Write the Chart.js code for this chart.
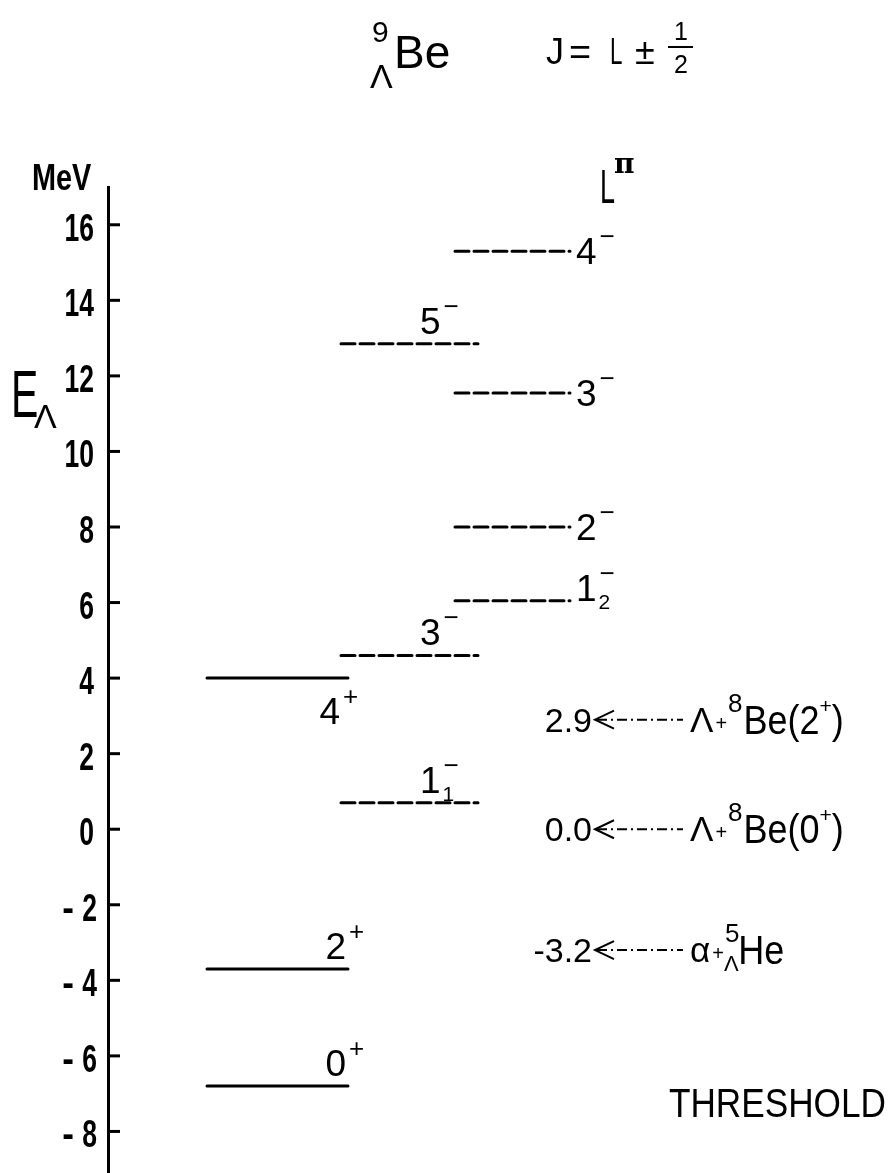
<!DOCTYPE html>
<html>
<head>
<meta charset="utf-8">
<script src="https://cdn.jsdelivr.net/npm/chart.js@4.4.1/dist/chart.umd.min.js"></script>
<style>
  html, body { margin: 0; padding: 0; background: #fff; }
  #wrap { width: 892px; height: 1173px; }
</style>
</head>
<body>
<div id="wrap"><canvas id="levels" width="892" height="1173"></canvas></div>
<script>
// 9-Lambda-Be levels (MeV), L^pi labels, grouped in three columns
const levelSpins = ['0', '2', '4', '1', '3', '5', '1', '2', '3', '4'];
const levelParities = ['+', '+', '+', '-', '-', '-', '-', '-', '-', '-'];
const levelIndices = ['', '', '', '1', '', '', '2', '', '', ''];
const levelEnergies = [-6.8, -3.7, 4.0, 0.7, 4.6, 12.85, 6.05, 8.0, 11.55, 15.3];
const levelColumns = [0, 0, 0, 1, 1, 1, 2, 2, 2, 2];

// breakup thresholds
const thresholdEnergies = [2.9, 0.0, -3.2];
const channelParticles = ['Λ', 'Λ', 'α'];
const channelMasses = ['8', '8', '5'];
const channelCores = ['Be(2+)', 'Be(0+)', 'He'];
const channelHyper = [false, false, true];

const yTickValues = [-8, -6, -4, -2, 0, 2, 4, 6, 8, 10, 12, 14, 16];

// horizontal layout, in px from the energy axis
const columns = [
  { x0: 99, x1: 240, label: 'end' },
  { x0: 233, x1: 370, label: 'mid' },
  { x0: 347, x1: 462, label: 'right' }
];
const labelsBelow = ['4+'];
const arrowFrom = 489, arrowTo = 575;

const SANS = '"Liberation Sans", Arial, sans-serif';

const datasets = [];
levelEnergies.forEach((e, i) => {
  const col = columns[levelColumns[i]];
  datasets.push({
    data: [{ x: col.x0, y: e }, { x: col.x1, y: e }],
    borderColor: '#000',
    borderWidth: 3,
    borderDash: levelParities[i] === '+' ? [] : [14, 5],
    borderCapStyle: 'round'
  });
});
thresholdEnergies.forEach(e => {
  datasets.push({
    data: [{ x: arrowFrom, y: e }, { x: arrowTo, y: e }],
    borderColor: '#000',
    borderWidth: 2,
    borderDash: [10, 4, 2, 4]
  });
});

function sign(ch) {
  return ch === '-' ? '\u2212' : ch;
}

// condensed lettering: squeeze a normal face horizontally
function squeezed(ctx, text, x, y, font, sx, align) {
  ctx.save();
  ctx.font = font;
  ctx.textAlign = align || 'left';
  ctx.translate(x, y);
  ctx.scale(sx, 1);
  ctx.fillText(text, 0, 0);
  ctx.restore();
}

const annotations = {
  id: 'annotations',
  afterDraw(chart) {
    const { ctx, chartArea, scales: { x, y } } = chart;
    ctx.save();
    ctx.fillStyle = '#000';
    ctx.strokeStyle = '#000';
    ctx.textBaseline = 'alphabetic';
    ctx.textAlign = 'left';

    // tick marks point into the plot, labels in a condensed face
    ctx.lineWidth = 3;
    y.ticks.forEach(t => {
      const py = y.getPixelForValue(t.value);
      ctx.beginPath();
      ctx.moveTo(chartArea.left, py);
      ctx.lineTo(chartArea.left + 12, py);
      ctx.stroke();
      const font = 'bold 39px ' + SANS;
      if (t.value < 0) {
        squeezed(ctx, String(-t.value), 97, py + 16, font, 0.68, 'right');
        squeezed(ctx, '-', 74, py + 16, font, 0.9, 'right');
      } else {
        squeezed(ctx, String(t.value), 94, py + 16, font, 0.68, 'right');
      }
    });

    // level labels
    levelEnergies.forEach((e, i) => {
      const col = columns[levelColumns[i]];
      const py = y.getPixelForValue(e);
      const x1 = x.getPixelForValue(col.x1);
      const spin = levelSpins[i];
      ctx.font = '37px ' + SANS;
      const w = ctx.measureText(spin).width;
      let left, base;
      if (col.label === 'right') {
        left = x1 + 6;
        base = levelIndices[i] ? py : py + 13;
      } else if (col.label === 'mid') {
        left = x1 - 58;
        base = py - 10;
      } else {
        left = x1 - 2 - w;
        base = py - 10;
      }
      if (labelsBelow.includes(spin + levelParities[i])) {
        left = x1 - 8 - w;
        base = py + 46;
      }
      ctx.fillText(spin, left, base);
      ctx.font = '26px ' + SANS;
      ctx.fillText(sign(levelParities[i]), left + w + 3, base - 19);
      if (levelIndices[i]) {
        ctx.font = '21px ' + SANS;
        ctx.fillText(levelIndices[i], left + w + 2, base + 8);
      }
    });

    // thresholds: value <-·-·- channel
    thresholdEnergies.forEach((e, i) => {
      const py = y.getPixelForValue(e);
      ctx.font = '34px ' + SANS;
      ctx.textAlign = 'right';
      ctx.fillText(e.toFixed(1), 592, py + 12);
      ctx.textAlign = 'left';
      const tip = x.getPixelForValue(arrowFrom) - 2;
      ctx.lineWidth = 2;
      ctx.beginPath();
      ctx.moveTo(tip + 19, py - 9);
      ctx.lineTo(tip, py);
      ctx.lineTo(tip + 19, py + 9);
      ctx.stroke();

      let cx = 690;
      ctx.font = '35px ' + SANS;
      ctx.fillText(channelParticles[i], cx, py + 12);
      cx += ctx.measureText(channelParticles[i]).width + 2;
      ctx.font = '20px ' + SANS;
      ctx.fillText('+', cx, py + 10);
      cx += ctx.measureText('+').width + 1;
      ctx.font = '26px ' + SANS;
      ctx.fillText(channelMasses[i], cx, py - 8);
      if (channelHyper[i]) {
        ctx.font = '22px ' + SANS;
        ctx.fillText('Λ', cx - 1, py + 21);
      }
      cx += ctx.measureText(channelMasses[i]).width + 1;
      for (const ch of channelCores[i]) {
        if (ch === '+') {
          ctx.font = '21px ' + SANS;
          ctx.fillText('+', cx, py - 7);
          cx += ctx.measureText(ch).width;
        } else {
          squeezed(ctx, ch, cx, py + 14, '40px ' + SANS, 0.9);
          ctx.font = '40px ' + SANS;
          cx += ctx.measureText(ch).width * 0.9;
        }
      }
    });

    // axis captions
    squeezed(ctx, 'MeV', 32, 190, 'bold 37px ' + SANS, 0.78);
    squeezed(ctx, 'E', 11, 417, '66px ' + SANS, 0.62);
    ctx.font = '34px ' + SANS;
    ctx.fillText('Λ', 34, 428);

    squeezed(ctx, 'L', 600, 203, '49px ' + SANS, 0.55);
    ctx.font = 'bold 28px "DejaVu Serif", serif';
    ctx.fillText('π', 614, 173);

    // heading
    ctx.font = '30px ' + SANS;
    ctx.fillText('9', 372, 42);
    ctx.font = '34px ' + SANS;
    ctx.fillText('Λ', 370, 88);
    ctx.font = '46px ' + SANS;
    ctx.fillText('Be', 394, 68);
    ctx.font = '36px ' + SANS;
    ctx.fillText('J', 546, 64);
    squeezed(ctx, '=', 569, 64, '36px ' + SANS, 1.05);
    squeezed(ctx, 'L', 610, 64, '36px ' + SANS, 0.62);
    ctx.font = '36px ' + SANS;
    ctx.fillText('±', 635, 64);
    ctx.textAlign = 'center';
    ctx.font = '25px ' + SANS;
    ctx.fillText('1', 681, 40);
    ctx.fillText('2', 681, 73);
    ctx.lineWidth = 2;
    ctx.beginPath();
    ctx.moveTo(668, 47);
    ctx.lineTo(693, 47);
    ctx.stroke();

    squeezed(ctx, 'THRESHOLD', 886, 1117, '40px ' + SANS, 0.88, 'right');
    ctx.restore();
  }
};

new Chart(document.getElementById('levels'), {
  type: 'scatter',
  data: { datasets },
  options: {
    responsive: false,
    animation: false,
    events: [],
    showLine: true,
    elements: { point: { radius: 0 }, line: { tension: 0 } },
    layout: { padding: { top: 187, left: 0, right: 0, bottom: 0 } },
    plugins: { legend: { display: false }, tooltip: { enabled: false } },
    scales: {
      x: { type: 'linear', display: false, min: 0, max: 784 },
      y: {
        type: 'linear',
        min: -9.1,
        max: 17,
        afterFit(scale) {
          scale.width = 108;
          scale.paddingTop = 0;
          scale.paddingBottom = 0;
        },
        afterBuildTicks(scale) { scale.ticks = yTickValues.map(v => ({ value: v })); },
        grid: { drawOnChartArea: false, drawTicks: false },
        border: { display: true, color: '#000', width: 3 },
        ticks: { display: false }
      }
    }
  },
  plugins: [annotations]
});
</script>
</body>
</html>
